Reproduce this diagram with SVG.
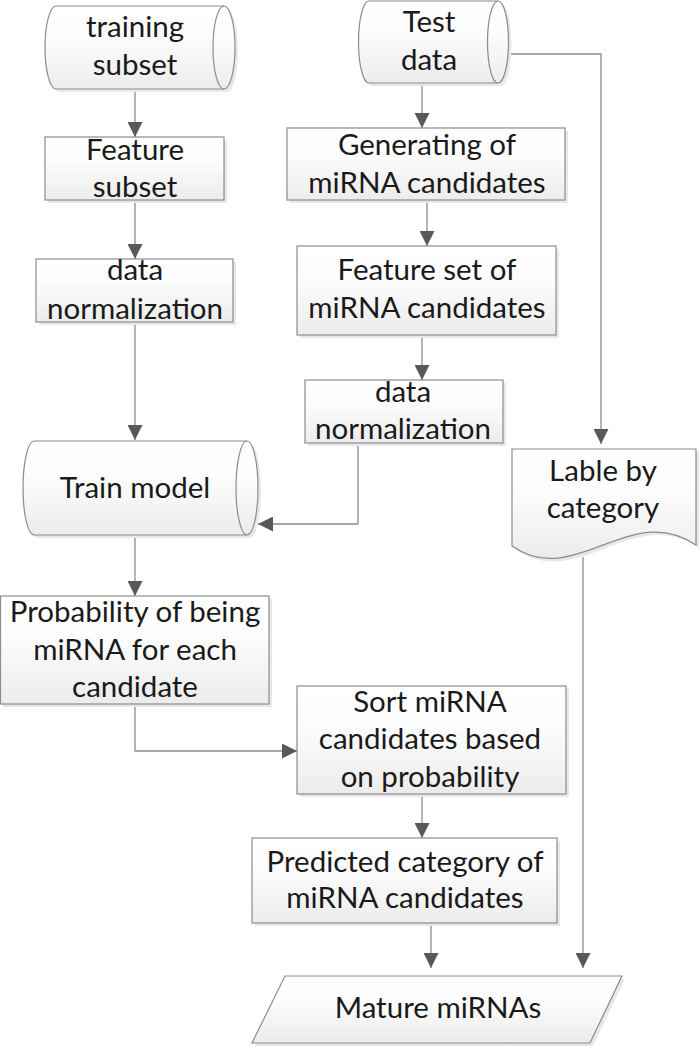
<svg xmlns="http://www.w3.org/2000/svg" width="700" height="1048" viewBox="0 0 700 1048">
<style>
.shape{fill:url(#g);stroke:#8c8c8c;stroke-width:1.2}
.shadow{fill:#e8e8e8;stroke:none}
.inner{fill:none;stroke:#8c8c8c;stroke-width:1.2}
.conn{fill:none;stroke:#8c8c8c;stroke-width:1.3}
text{font-family:Lato,"Liberation Sans",sans-serif;font-size:29.5px;fill:#1a1a1a;text-anchor:middle}
</style>
<defs>
<linearGradient id="g" x1="0" y1="0" x2="0" y2="1">
<stop offset="0" stop-color="#ffffff"/>
<stop offset="0.35" stop-color="#fdfdfd"/>
<stop offset="1" stop-color="#ececec"/>
</linearGradient>
<marker id="ah" viewBox="0 0 10 10" refX="10" refY="5" markerUnits="userSpaceOnUse" markerWidth="15" markerHeight="15" orient="auto">
<path d="M0,0 L10,5 L0,10 z" fill="#595959"/>
</marker>
</defs>
<g id="connectors">
<path class="conn" d="M135,89 V137" marker-end="url(#ah)"/>
<path class="conn" d="M135,200 V259" marker-end="url(#ah)"/>
<path class="conn" d="M135,322 V440" marker-end="url(#ah)"/>
<path class="conn" d="M358,443 V524 H258" marker-end="url(#ah)"/>
<path class="conn" d="M135,535 V596" marker-end="url(#ah)"/>
<path class="conn" d="M135,704 V751 H297" marker-end="url(#ah)"/>
<path class="conn" d="M422,83 V128" marker-end="url(#ah)"/>
<path class="conn" d="M427,200 V246" marker-end="url(#ah)"/>
<path class="conn" d="M422,335 V380" marker-end="url(#ah)"/>
<path class="conn" d="M508,54 H601 V444" marker-end="url(#ah)"/>
<path class="conn" d="M422,794 V838" marker-end="url(#ah)"/>
<path class="conn" d="M431,923 V968" marker-end="url(#ah)"/>
<path class="conn" d="M583,557 V968" marker-end="url(#ah)"/>
</g>
<g id="training-subset">
<path class="shadow" transform="translate(3,3)" d="M56,6 H224 A11,41.5 0 0 1 224,89 H56 A11,41.5 0 0 1 56,6 Z"/>
<path class="shape" d="M56,6 H224 A11,41.5 0 0 1 224,89 H56 A11,41.5 0 0 1 56,6 Z"/>
<path class="inner" d="M224,6 A11,41.5 0 0 0 224,89"/>
<text x="135" y="37">training</text>
<text x="135" y="75">subset</text>
</g>
<g id="feature-subset">
<rect class="shadow" x="48" y="140" width="179" height="63"/>
<rect class="shape" x="45" y="137" width="179" height="63"/>
<text x="135" y="160">Feature</text>
<text x="135" y="197">subset</text>
</g>
<g id="data-normalization-left">
<rect class="shadow" x="39" y="262" width="197" height="63"/>
<rect class="shape" x="36" y="259" width="197" height="63"/>
<text x="135" y="280">data</text>
<text x="135" y="319">normalization</text>
</g>
<g id="train-model">
<path class="shadow" transform="translate(3,3)" d="M34,441 H247 A11,47 0 0 1 247,535 H34 A11,47 0 0 1 34,441 Z"/>
<path class="shape" d="M34,441 H247 A11,47 0 0 1 247,535 H34 A11,47 0 0 1 34,441 Z"/>
<path class="inner" d="M247,441 A11,47 0 0 0 247,535"/>
<text x="135" y="498">Train model</text>
</g>
<g id="probability">
<rect class="shadow" x="3" y="599" width="269" height="108"/>
<rect class="shape" x="0.5" y="596" width="268.5" height="108"/>
<text x="135" y="622">Probability of being</text>
<text x="135" y="660">miRNA for each</text>
<text x="135" y="697">candidate</text>
</g>
<g id="test-data">
<path class="shadow" transform="translate(3,3)" d="M369,1 H498 A10.5,41 0 0 1 498,83 H369 A10.5,41 0 0 1 369,1 Z"/>
<path class="shape" d="M369,1 H498 A10.5,41 0 0 1 498,83 H369 A10.5,41 0 0 1 369,1 Z"/>
<path class="inner" d="M498,1 A10.5,41 0 0 0 498,83"/>
<text x="429" y="32">Test</text>
<text x="429" y="70">data</text>
</g>
<g id="generating">
<rect class="shadow" x="290" y="131" width="278" height="72"/>
<rect class="shape" x="287" y="128" width="278" height="72"/>
<text x="427" y="155">Generating of</text>
<text x="427" y="193">miRNA candidates</text>
</g>
<g id="feature-set">
<rect class="shadow" x="300" y="249" width="259" height="89"/>
<rect class="shape" x="297" y="246" width="259" height="89"/>
<text x="427" y="280">Feature set of</text>
<text x="427" y="318">miRNA candidates</text>
</g>
<g id="data-normalization-right">
<rect class="shadow" x="308" y="383" width="198" height="63"/>
<rect class="shape" x="305" y="380" width="198" height="63"/>
<text x="403" y="402">data</text>
<text x="403" y="439">normalization</text>
</g>
<g id="lable-by-category">
<path class="shadow" transform="translate(3,3)" d="M512,449 H696 V545 C630,500 575,590 512,546 Z"/>
<path class="shape" d="M512,449 H696 V545 C630,500 575,590 512,546 Z"/>
<text x="603" y="481">Lable by</text>
<text x="603" y="518">category</text>
</g>
<g id="sort">
<rect class="shadow" x="300" y="689" width="269" height="108"/>
<rect class="shape" x="297" y="686" width="269" height="108"/>
<text x="430" y="712">Sort miRNA</text>
<text x="430" y="749">candidates based</text>
<text x="430" y="787">on probability</text>
</g>
<g id="predicted">
<rect class="shadow" x="255" y="841" width="305" height="85"/>
<rect class="shape" x="252" y="838" width="305" height="85"/>
<text x="405" y="872">Predicted category of</text>
<text x="405" y="908">miRNA candidates</text>
</g>
<g id="mature">
<path class="shadow" transform="translate(3,3)" d="M285,976 H622 L590,1043 H252 Z"/>
<path class="shape" d="M285,976 H622 L590,1043 H252 Z"/>
<text x="438" y="1018">Mature miRNAs</text>
</g>
</svg>
